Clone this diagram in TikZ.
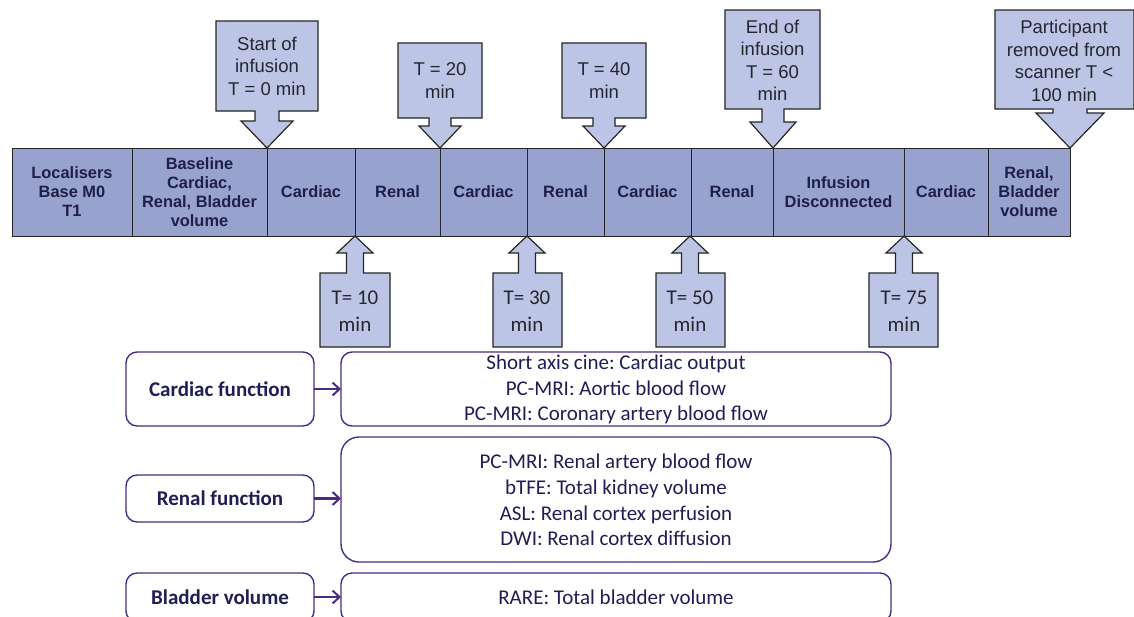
\documentclass[tikz,border=0pt]{standalone}
\usepackage{fontspec}
\setmainfont{Liberation Sans}
\newfontfamily\calfont{Carlito}
\frenchspacing
\usetikzlibrary{arrows.meta}
\definecolor{barfill}{HTML}{97A2CF}
\definecolor{callfill}{HTML}{BCC5E5}
\definecolor{bartext}{HTML}{1F1F48}
\definecolor{calltext}{HTML}{262630}
\definecolor{purp}{HTML}{4A2C82}
\definecolor{navytext}{HTML}{211D55}
\tikzset{
  cell/.style={draw=black!85, line width=1pt, fill=barfill},
  celltext/.style={font=\fontsize{16.4}{19}\selectfont\bfseries, text=bartext, align=center},
  callshape/.style={draw=black!85, line width=1.2pt, fill=callfill},
  calltxt/.style={font=\fontsize{18.5}{22.5}\selectfont, text=calltext, align=center},
  calltxtb/.style={font=\calfont\fontsize{21}{27}\selectfont, text=calltext, align=center},
  fbox/.style={draw=purp, line width=1.4pt, rounded corners=11pt},
  ftxtb/.style={font=\calfont\fontsize{21}{26}\selectfont\bfseries, text=navytext, align=center},
  ftxt/.style={font=\calfont\fontsize{21}{25.8}\selectfont, text=navytext, align=center},
  farrow/.style={draw=purp, line width=2.2pt, -{Straight Barb[length=7pt,width=13pt,line width=2pt]}}
}
\begin{document}
\begin{tikzpicture}[x=1pt,y=-1pt]
\clip (0,0) rectangle (1134,616);
\fill[white] (0,0) rectangle (1134,616);

% ---- timeline cells ----
\foreach \a/\b/\n in {12/132/c1,132/267/c2,267/355/c3,355/440/c4,440/527/c5,527/604/c6,604/691/c7,691/773/c8,773/904/c9,904/988/c10,988/1070/c11}{
  \draw[cell] (\a,148) rectangle (\b,236);
  \coordinate (\n) at ({(\a+\b)/2},192);
}
\node[celltext] (t1) at (c1) {Localisers\\Base M0\\T1};
\node[celltext] (t2) at (c2) {Baseline\\Cardiac,\\Renal, Bladder\\volume};
\node[celltext] (t3) at (c3) {Cardiac};
\node[celltext] (t4) at (c4) {Renal};
\node[celltext] (t5) at (c5) {Cardiac};
\node[celltext] (t6) at (c6) {Renal};
\node[celltext] (t7) at (c7) {Cardiac};
\node[celltext] (t8) at (c8) {Renal};
\node[celltext] (t9) at (c9) {Infusion\\Disconnected};
\node[celltext] (t10) at (c10) {Cardiac};
\node[celltext] (t11) at (c11) {Renal,\\Bladder\\volume};

% ---- callouts above (pointing down) ----
\foreach \xa/\xb/\ya/\yb/\tx/\nn/\hh/\yh in {
  216/318/21/111/267/12/26/121,
  398/482/43/118/440/11/21/126,
  562/646/43/118/604/11/21/126,
  725/820/10/109/773/11/23/122,
  995/1134/10/109/1070/17/34/113}{
  \draw[callshape] (\xa,\ya) -- (\xb,\ya) -- (\xb,\yb) -- (\tx+\nn,\yb) -- (\tx+\nn,\yh) -- (\tx+\hh,\yh)
    -- (\tx,148) -- (\tx-\hh,\yh) -- (\tx-\nn,\yh) -- (\tx-\nn,\yb) -- (\xa,\yb) -- cycle;
}
\node[calltxt] (a0) at (267,66) {Start of\\infusion\\T = 0 min};
\node[calltxt] (a20) at (440,80.5) {T = 20\\min};
\node[calltxt] (a40) at (604,80.5) {T = 40\\min};
\node[calltxt] (a60) at (772.5,60.5) {End of\\infusion\\T = 60\\min};
\node[calltxt] (a100) at (1064,61) {Participant\\removed from\\scanner T <\\100 min};

% ---- callouts below (pointing up) ----
\foreach \tx/\xa/\xb in {355/320/390, 527/493/562, 690/656/725, 904/869/938}{
  \draw[callshape] (\xa,347) -- (\xb,347) -- (\xb,273) -- (\tx+8.5,273) -- (\tx+8.5,253) -- (\tx+18,253)
    -- (\tx,236) -- (\tx-18,253) -- (\tx-8.5,253) -- (\tx-8.5,273) -- (\xa,273) -- cycle;
}
\node[calltxtb] (b10) at (355,311) {T= 10\\min};
\node[calltxtb] (b30) at (527,311) {T= 30\\min};
\node[calltxtb] (b50) at (690,311) {T= 50\\min};
\node[calltxtb] (b75) at (904,311) {T= 75\\min};

% ---- function boxes ----
\draw[fbox] (126,352) rectangle (314,426);
\node[ftxtb] (cf) at (220,389) {Cardiac function};
\draw[fbox] (341,352) rectangle (891,426);
\node[ftxt] (cm) at (616,389.5) {Short axis cine: Cardiac output\\PC-MRI: Aortic blood flow\\PC-MRI: Coronary artery blood flow};

\draw[fbox] (126,475) rectangle (314,522);
\node[ftxtb] (rf) at (220,498.5) {Renal function};
\draw[fbox, rounded corners=18pt] (341,437) rectangle (891,562);
\node[ftxt] (rm) at (616,500) {PC-MRI: Renal artery blood flow\\bTFE: Total kidney volume\\ASL: Renal cortex perfusion\\DWI: Renal cortex diffusion};

\draw[fbox] (126,573) rectangle (314,622);
\node[ftxtb] (bf) at (220,597) {Bladder volume};
\draw[fbox] (341,573) rectangle (891,622);
\node[ftxt] (bm) at (616,597) {RARE: Total bladder volume};

\coordinate (cfr) at (314,389); \coordinate (cml) at (341,389);
\coordinate (rfr) at (314,498.5); \coordinate (rml) at (341,498.5);
\coordinate (bfr) at (314,597); \coordinate (bml) at (341,597);
\draw[farrow] (cfr) -- (cml);
\draw[farrow] (rfr) -- (rml);
\draw[farrow] (bfr) -- (bml);
\end{tikzpicture}
\end{document}
